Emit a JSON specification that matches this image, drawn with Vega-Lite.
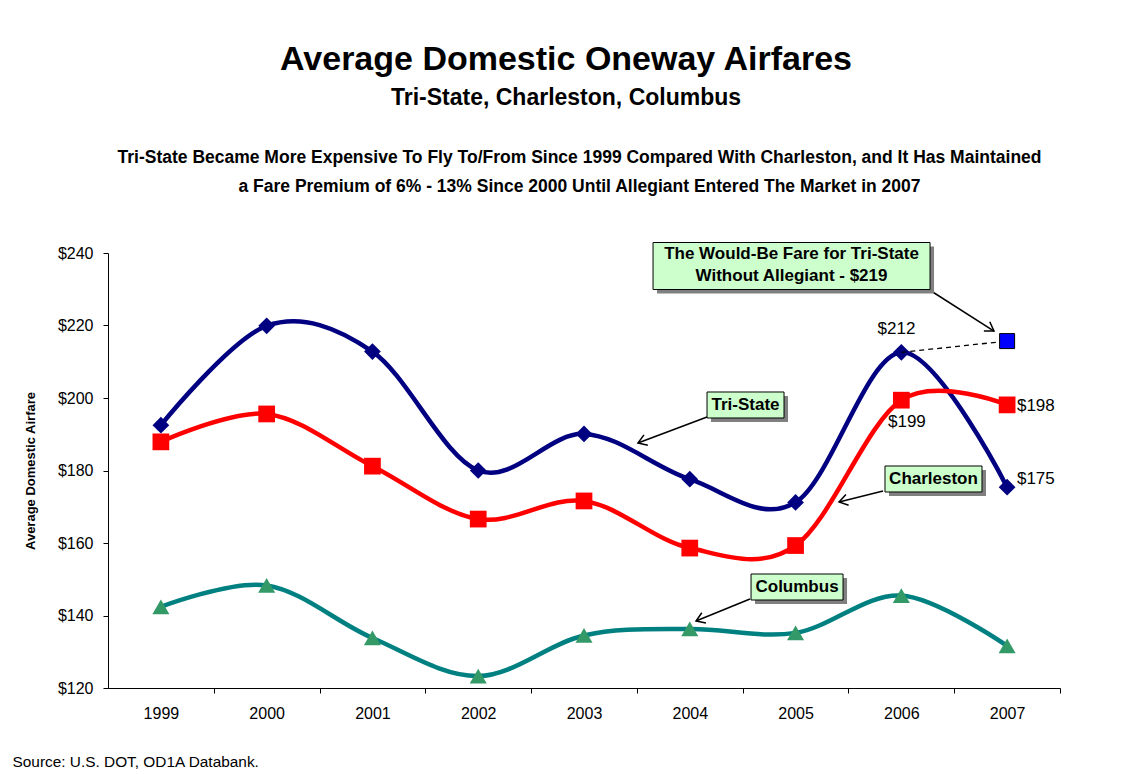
{
  "$schema": "https://vega.github.io/schema/vega-lite/v6.json",
  "width": 952,
  "height": 435,
  "autosize": {"type": "none"},
  "padding": {"left": 108, "top": 253, "right": 77, "bottom": 86},
  "background": "white",
  "config": {
    "font": "Liberation Sans",
    "view": {"stroke": null},
    "axis": {"labelFont": "Liberation Sans", "titleFont": "Liberation Sans"},
    "text": {"font": "Liberation Sans"}
  },
  "title": {
    "text": "Average Domestic Oneway Airfares",
    "subtitle": "Tri-State, Charleston, Columbus",
    "fontSize": 34,
    "fontWeight": "bold",
    "color": "black",
    "font": "Liberation Sans",
    "subtitleFont": "Liberation Sans",
    "subtitleFontSize": 23,
    "subtitleFontWeight": "bold",
    "subtitleColor": "black",
    "subtitlePadding": 10,
    "anchor": "middle",
    "offset": 38,
    "dx": -18
  },
  "datasets": {
    "fares": [
      {"year": 1999, "series": "Tri-State", "fare": 192.5},
      {"year": 2000, "series": "Tri-State", "fare": 219.9},
      {"year": 2001, "series": "Tri-State", "fare": 212.8},
      {"year": 2002, "series": "Tri-State", "fare": 180.0},
      {"year": 2003, "series": "Tri-State", "fare": 190.1},
      {"year": 2004, "series": "Tri-State", "fare": 177.6},
      {"year": 2005, "series": "Tri-State", "fare": 171.2},
      {"year": 2006, "series": "Tri-State", "fare": 212.6},
      {"year": 2007, "series": "Tri-State", "fare": 175.4},
      {"year": 1999, "series": "Charleston", "fare": 187.9},
      {"year": 2000, "series": "Charleston", "fare": 195.6},
      {"year": 2001, "series": "Charleston", "fare": 181.2},
      {"year": 2002, "series": "Charleston", "fare": 166.6},
      {"year": 2003, "series": "Charleston", "fare": 171.6},
      {"year": 2004, "series": "Charleston", "fare": 158.6},
      {"year": 2005, "series": "Charleston", "fare": 159.3},
      {"year": 2006, "series": "Charleston", "fare": 199.4},
      {"year": 2007, "series": "Charleston", "fare": 198.1},
      {"year": 1999, "series": "Columbus", "fare": 142.4},
      {"year": 2000, "series": "Columbus", "fare": 148.3},
      {"year": 2001, "series": "Columbus", "fare": 133.8},
      {"year": 2002, "series": "Columbus", "fare": 123.3},
      {"year": 2003, "series": "Columbus", "fare": 134.5},
      {"year": 2004, "series": "Columbus", "fare": 136.3},
      {"year": 2005, "series": "Columbus", "fare": 135.2},
      {"year": 2006, "series": "Columbus", "fare": 145.5},
      {"year": 2007, "series": "Columbus", "fare": 131.6}
    ],
    "dash": [
      {"year": 2006, "fare": 212.6},
      {"year": 2007, "fare": 215.7}
    ],
    "wouldbe": [
      {"year": 2007, "fare": 215.7}
    ],
    "boxes": [
      {"name": "wouldbe", "year": 2004.962, "fare": 236.41, "label": "The Would-Be Fare for Tri-State\nWithout Allegiant - $219"},
      {"name": "tristate", "year": 2004.527, "fare": 198.07, "label": "Tri-State"},
      {"name": "charleston", "year": 2006.304, "fare": 177.66, "label": "Charleston"},
      {"name": "columbus", "year": 2005.014, "fare": 147.86, "label": "Columbus"}
    ],
    "arrows": [
      {"name": "wouldbe", "year": 2006.252, "fare": 230.07, "year2": 2006.876, "fare2": 218.48},
      {"name": "tristate", "year": 2004.163, "fare": 194.76, "year2": 2003.51, "fare2": 187.59},
      {"name": "charleston", "year": 2005.827, "fare": 174.34, "year2": 2005.411, "fare2": 171.31},
      {"name": "columbus", "year": 2004.569, "fare": 144.55, "year2": 2004.059, "fare2": 138.48}
    ],
    "leftlabels": [
      {"year": 2007.093, "fare": 197.93, "label": "$198"},
      {"year": 2005.874, "fare": 193.38, "label": "$199"},
      {"year": 2007.093, "fare": 177.66, "label": "$175"}
    ],
    "centerlabels": [
      {"year": 2005.954, "fare": 219.03, "label": "$212"}
    ]
  },
  "resolve": {"axis": {"x": "independent", "y": "independent"}},
  "layer": [
    {
      "data": {"name": "fares"},
      "transform": [{"filter": "datum.series === 'Tri-State'"}],
      "mark": {"type": "line", "interpolate": "cardinal", "color": "#000080", "strokeWidth": 4.5},
      "encoding": {
        "x": {"field": "year", "type": "quantitative", "scale": {"domain": [1998.5, 2007.5], "nice": false, "zero": false},
          "axis": {"orient": "bottom", "values": [1999, 2000, 2001, 2002, 2003, 2004, 2005, 2006, 2007], "format": "d",
            "tickOffset": 52.889, "labelOffset": -52.889, "tickSize": 5, "tickColor": "black", "domainColor": "black",
            "labelFontSize": 16, "labelColor": "black", "labelPadding": 12, "grid": false, "labelFlush": false, "labelOverlap": false, "labelBound": false,
            "title": "Source: U.S. DOT, OD1A Databank.", "titleFontSize": 15.4, "titleFontWeight": "normal", "titleColor": "black",
            "titleX": -96, "titleY": 73, "titleAlign": "left", "titleBaseline": "middle", "titleAnchor": "start"}},
        "y": {"field": "fare", "type": "quantitative", "scale": {"domain": [120, 240], "nice": false, "zero": false},
          "axis": {"orient": "left", "values": [120, 140, 160, 180, 200, 220, 240], "format": "$d", "tickSize": 5, "tickColor": "black", "domainColor": "black",
            "labelFontSize": 16, "labelColor": "black", "labelPadding": 10, "grid": false, "labelFlush": false,
            "title": "Average Domestic Airfare", "titleFontSize": 13, "titleFontWeight": "bold", "titleColor": "black", "titlePadding": 20}}
      }
    },
    {
      "data": {"name": "fares"},
      "transform": [{"filter": "datum.series === 'Tri-State'"}],
      "mark": {"type": "point", "shape": "diamond", "filled": true, "color": "#000080", "size": 280, "opacity": 1},
      "encoding": {
        "x": {"field": "year", "type": "quantitative", "scale": {"domain": [1998.5, 2007.5], "nice": false, "zero": false}, "axis": null},
        "y": {"field": "fare", "type": "quantitative", "scale": {"domain": [120, 240], "nice": false, "zero": false}, "axis": null}
      }
    },
    {
      "data": {"name": "fares"},
      "transform": [{"filter": "datum.series === 'Charleston'"}],
      "mark": {"type": "line", "interpolate": "cardinal", "color": "#FF0000", "strokeWidth": 4.5},
      "encoding": {
        "x": {"field": "year", "type": "quantitative", "scale": {"domain": [1998.5, 2007.5], "nice": false, "zero": false},
          "axis": {"orient": "top", "domain": false, "ticks": false, "labels": false, "grid": false,
            "title": ["Tri-State Became More Expensive To Fly To/From Since 1999 Compared With Charleston, and It Has Maintained", "a Fare Premium of 6% - 13% Since 2000 Until Allegiant Entered The Market in 2007"],
            "titleFontSize": 17.5, "titleFontWeight": "bold", "titleColor": "black", "titleLineHeight": 29,
            "titleX": 471, "titleY": -96, "titleAlign": "center", "titleBaseline": "middle"}},
        "y": {"field": "fare", "type": "quantitative", "scale": {"domain": [120, 240], "nice": false, "zero": false}, "axis": null}
      }
    },
    {
      "data": {"name": "fares"},
      "transform": [{"filter": "datum.series === 'Charleston'"}],
      "mark": {"type": "point", "shape": "square", "filled": true, "color": "#FF0000", "size": 280, "opacity": 1},
      "encoding": {
        "x": {"field": "year", "type": "quantitative", "scale": {"domain": [1998.5, 2007.5], "nice": false, "zero": false}, "axis": null},
        "y": {"field": "fare", "type": "quantitative", "scale": {"domain": [120, 240], "nice": false, "zero": false}, "axis": null}
      }
    },
    {
      "data": {"name": "fares"},
      "transform": [{"filter": "datum.series === 'Columbus'"}],
      "mark": {"type": "line", "interpolate": "cardinal", "color": "#008080", "strokeWidth": 4.5},
      "encoding": {
        "x": {"field": "year", "type": "quantitative", "scale": {"domain": [1998.5, 2007.5], "nice": false, "zero": false}, "axis": null},
        "y": {"field": "fare", "type": "quantitative", "scale": {"domain": [120, 240], "nice": false, "zero": false}, "axis": null}
      }
    },
    {
      "data": {"name": "fares"},
      "transform": [{"filter": "datum.series === 'Columbus'"}],
      "mark": {"type": "point", "shape": "triangle-up", "filled": true, "color": "#339966", "size": 290, "opacity": 1},
      "encoding": {
        "x": {"field": "year", "type": "quantitative", "scale": {"domain": [1998.5, 2007.5], "nice": false, "zero": false}, "axis": null},
        "y": {"field": "fare", "type": "quantitative", "scale": {"domain": [120, 240], "nice": false, "zero": false}, "axis": null}
      }
    },
    {
      "data": {"name": "dash"},
      "mark": {"type": "line", "color": "black", "strokeWidth": 1.3, "strokeDash": [5, 4]},
      "encoding": {
        "x": {"field": "year", "type": "quantitative", "scale": {"domain": [1998.5, 2007.5], "nice": false, "zero": false}, "axis": null},
        "y": {"field": "fare", "type": "quantitative", "scale": {"domain": [120, 240], "nice": false, "zero": false}, "axis": null}
      }
    },
    {
      "data": {"name": "wouldbe"},
      "mark": {"type": "point", "shape": "square", "filled": true, "fill": "#0000FF", "stroke": "black", "strokeWidth": 1, "size": 225, "opacity": 1},
      "encoding": {
        "x": {"field": "year", "type": "quantitative", "scale": {"domain": [1998.5, 2007.5], "nice": false, "zero": false}, "axis": null},
        "y": {"field": "fare", "type": "quantitative", "scale": {"domain": [120, 240], "nice": false, "zero": false}, "axis": null}
      }
    },
    {
      "data": {"name": "arrows"},
      "mark": {"type": "rule", "color": "black", "strokeWidth": 1.5},
      "encoding": {
        "x": {"field": "year", "type": "quantitative", "scale": {"domain": [1998.5, 2007.5], "nice": false, "zero": false}, "axis": null},
        "y": {"field": "fare", "type": "quantitative", "scale": {"domain": [120, 240], "nice": false, "zero": false}, "axis": null},
        "x2": {"field": "year2"},
        "y2": {"field": "fare2"}
      }
    },
    {
      "data": {"name": "arrows"},
      "transform": [{"filter": "datum.name === 'wouldbe'"}],
      "mark": {"type": "point", "shape": "M-0.55,0.85L0,0L0.55,0.85", "filled": false, "stroke": "black", "strokeWidth": 1.5, "size": 400, "angle": 122.5, "opacity": 1},
      "encoding": {
        "x": {"field": "year2", "type": "quantitative", "scale": {"domain": [1998.5, 2007.5], "nice": false, "zero": false}, "axis": null},
        "y": {"field": "fare2", "type": "quantitative", "scale": {"domain": [120, 240], "nice": false, "zero": false}, "axis": null}
      }
    },
    {
      "data": {"name": "arrows"},
      "transform": [{"filter": "datum.name === 'tristate'"}],
      "mark": {"type": "point", "shape": "M-0.55,0.85L0,0L0.55,0.85", "filled": false, "stroke": "black", "strokeWidth": 1.5, "size": 400, "angle": 249.4, "opacity": 1},
      "encoding": {
        "x": {"field": "year2", "type": "quantitative", "scale": {"domain": [1998.5, 2007.5], "nice": false, "zero": false}, "axis": null},
        "y": {"field": "fare2", "type": "quantitative", "scale": {"domain": [120, 240], "nice": false, "zero": false}, "axis": null}
      }
    },
    {
      "data": {"name": "arrows"},
      "transform": [{"filter": "datum.name === 'charleston'"}],
      "mark": {"type": "point", "shape": "M-0.55,0.85L0,0L0.55,0.85", "filled": false, "stroke": "black", "strokeWidth": 1.5, "size": 400, "angle": 256, "opacity": 1},
      "encoding": {
        "x": {"field": "year2", "type": "quantitative", "scale": {"domain": [1998.5, 2007.5], "nice": false, "zero": false}, "axis": null},
        "y": {"field": "fare2", "type": "quantitative", "scale": {"domain": [120, 240], "nice": false, "zero": false}, "axis": null}
      }
    },
    {
      "data": {"name": "arrows"},
      "transform": [{"filter": "datum.name === 'columbus'"}],
      "mark": {"type": "point", "shape": "M-0.55,0.85L0,0L0.55,0.85", "filled": false, "stroke": "black", "strokeWidth": 1.5, "size": 400, "angle": 247.8, "opacity": 1},
      "encoding": {
        "x": {"field": "year2", "type": "quantitative", "scale": {"domain": [1998.5, 2007.5], "nice": false, "zero": false}, "axis": null},
        "y": {"field": "fare2", "type": "quantitative", "scale": {"domain": [120, 240], "nice": false, "zero": false}, "axis": null}
      }
    },
    {
      "data": {"name": "boxes"},
      "transform": [{"filter": "datum.name === 'wouldbe'"}],
      "mark": {"type": "point", "shape": "M-1,-0.1697L1,-0.1697L1,0.1697L-1,0.1697Z", "filled": true, "fill": "#808080", "strokeWidth": 0, "size": 76729, "xOffset": 4, "yOffset": 4, "opacity": 1},
      "encoding": {
        "x": {"field": "year", "type": "quantitative", "scale": {"domain": [1998.5, 2007.5], "nice": false, "zero": false}, "axis": null},
        "y": {"field": "fare", "type": "quantitative", "scale": {"domain": [120, 240], "nice": false, "zero": false}, "axis": null}
      }
    },
    {
      "data": {"name": "boxes"},
      "transform": [{"filter": "datum.name === 'wouldbe'"}],
      "mark": {"type": "point", "shape": "M-1,-0.1697L1,-0.1697L1,0.1697L-1,0.1697Z", "filled": true, "fill": "#CCFFCC", "stroke": "black", "strokeWidth": 1, "size": 76729, "opacity": 1},
      "encoding": {
        "x": {"field": "year", "type": "quantitative", "scale": {"domain": [1998.5, 2007.5], "nice": false, "zero": false}, "axis": null},
        "y": {"field": "fare", "type": "quantitative", "scale": {"domain": [120, 240], "nice": false, "zero": false}, "axis": null}
      }
    },
    {
      "data": {"name": "boxes"},
      "transform": [{"filter": "datum.name === 'tristate'"}],
      "mark": {"type": "point", "shape": "M-1,-0.3377L1,-0.3377L1,0.3377L-1,0.3377Z", "filled": true, "fill": "#808080", "strokeWidth": 0, "size": 5929, "xOffset": 4, "yOffset": 4, "opacity": 1},
      "encoding": {
        "x": {"field": "year", "type": "quantitative", "scale": {"domain": [1998.5, 2007.5], "nice": false, "zero": false}, "axis": null},
        "y": {"field": "fare", "type": "quantitative", "scale": {"domain": [120, 240], "nice": false, "zero": false}, "axis": null}
      }
    },
    {
      "data": {"name": "boxes"},
      "transform": [{"filter": "datum.name === 'tristate'"}],
      "mark": {"type": "point", "shape": "M-1,-0.3377L1,-0.3377L1,0.3377L-1,0.3377Z", "filled": true, "fill": "#CCFFCC", "stroke": "black", "strokeWidth": 1, "size": 5929, "opacity": 1},
      "encoding": {
        "x": {"field": "year", "type": "quantitative", "scale": {"domain": [1998.5, 2007.5], "nice": false, "zero": false}, "axis": null},
        "y": {"field": "fare", "type": "quantitative", "scale": {"domain": [120, 240], "nice": false, "zero": false}, "axis": null}
      }
    },
    {
      "data": {"name": "boxes"},
      "transform": [{"filter": "datum.name === 'charleston'"}],
      "mark": {"type": "point", "shape": "M-1,-0.268L1,-0.268L1,0.268L-1,0.268Z", "filled": true, "fill": "#808080", "strokeWidth": 0, "size": 9409, "xOffset": 4, "yOffset": 4, "opacity": 1},
      "encoding": {
        "x": {"field": "year", "type": "quantitative", "scale": {"domain": [1998.5, 2007.5], "nice": false, "zero": false}, "axis": null},
        "y": {"field": "fare", "type": "quantitative", "scale": {"domain": [120, 240], "nice": false, "zero": false}, "axis": null}
      }
    },
    {
      "data": {"name": "boxes"},
      "transform": [{"filter": "datum.name === 'charleston'"}],
      "mark": {"type": "point", "shape": "M-1,-0.268L1,-0.268L1,0.268L-1,0.268Z", "filled": true, "fill": "#CCFFCC", "stroke": "black", "strokeWidth": 1, "size": 9409, "opacity": 1},
      "encoding": {
        "x": {"field": "year", "type": "quantitative", "scale": {"domain": [1998.5, 2007.5], "nice": false, "zero": false}, "axis": null},
        "y": {"field": "fare", "type": "quantitative", "scale": {"domain": [120, 240], "nice": false, "zero": false}, "axis": null}
      }
    },
    {
      "data": {"name": "boxes"},
      "transform": [{"filter": "datum.name === 'columbus'"}],
      "mark": {"type": "point", "shape": "M-1,-0.2826L1,-0.2826L1,0.2826L-1,0.2826Z", "filled": true, "fill": "#808080", "strokeWidth": 0, "size": 8464, "xOffset": 4, "yOffset": 4, "opacity": 1},
      "encoding": {
        "x": {"field": "year", "type": "quantitative", "scale": {"domain": [1998.5, 2007.5], "nice": false, "zero": false}, "axis": null},
        "y": {"field": "fare", "type": "quantitative", "scale": {"domain": [120, 240], "nice": false, "zero": false}, "axis": null}
      }
    },
    {
      "data": {"name": "boxes"},
      "transform": [{"filter": "datum.name === 'columbus'"}],
      "mark": {"type": "point", "shape": "M-1,-0.2826L1,-0.2826L1,0.2826L-1,0.2826Z", "filled": true, "fill": "#CCFFCC", "stroke": "black", "strokeWidth": 1, "size": 8464, "opacity": 1},
      "encoding": {
        "x": {"field": "year", "type": "quantitative", "scale": {"domain": [1998.5, 2007.5], "nice": false, "zero": false}, "axis": null},
        "y": {"field": "fare", "type": "quantitative", "scale": {"domain": [120, 240], "nice": false, "zero": false}, "axis": null}
      }
    },
    {
      "data": {"name": "boxes"},
      "transform": [{"filter": "datum.name === 'wouldbe'"}],
      "mark": {"type": "text", "font": "Liberation Sans", "fontSize": 17, "fontWeight": "bold", "color": "black", "align": "center", "baseline": "middle", "lineBreak": "\n", "lineHeight": 22, "dy": -12},
      "encoding": {
        "x": {"field": "year", "type": "quantitative", "scale": {"domain": [1998.5, 2007.5], "nice": false, "zero": false}, "axis": null},
        "y": {"field": "fare", "type": "quantitative", "scale": {"domain": [120, 240], "nice": false, "zero": false}, "axis": null},
        "text": {"field": "label"}
      }
    },
    {
      "data": {"name": "boxes"},
      "transform": [{"filter": "datum.name !== 'wouldbe'"}],
      "mark": {"type": "text", "font": "Liberation Sans", "fontSize": 17, "fontWeight": "bold", "color": "black", "align": "center", "baseline": "middle"},
      "encoding": {
        "x": {"field": "year", "type": "quantitative", "scale": {"domain": [1998.5, 2007.5], "nice": false, "zero": false}, "axis": null},
        "y": {"field": "fare", "type": "quantitative", "scale": {"domain": [120, 240], "nice": false, "zero": false}, "axis": null},
        "text": {"field": "label"}
      }
    },
    {
      "data": {"name": "leftlabels"},
      "mark": {"type": "text", "font": "Liberation Sans", "fontSize": 17, "color": "black", "align": "left", "baseline": "middle"},
      "encoding": {
        "x": {"field": "year", "type": "quantitative", "scale": {"domain": [1998.5, 2007.5], "nice": false, "zero": false}, "axis": null},
        "y": {"field": "fare", "type": "quantitative", "scale": {"domain": [120, 240], "nice": false, "zero": false}, "axis": null},
        "text": {"field": "label"}
      }
    },
    {
      "data": {"name": "centerlabels"},
      "mark": {"type": "text", "font": "Liberation Sans", "fontSize": 17, "color": "black", "align": "center", "baseline": "middle"},
      "encoding": {
        "x": {"field": "year", "type": "quantitative", "scale": {"domain": [1998.5, 2007.5], "nice": false, "zero": false}, "axis": null},
        "y": {"field": "fare", "type": "quantitative", "scale": {"domain": [120, 240], "nice": false, "zero": false}, "axis": null},
        "text": {"field": "label"}
      }
    }
  ]
}
